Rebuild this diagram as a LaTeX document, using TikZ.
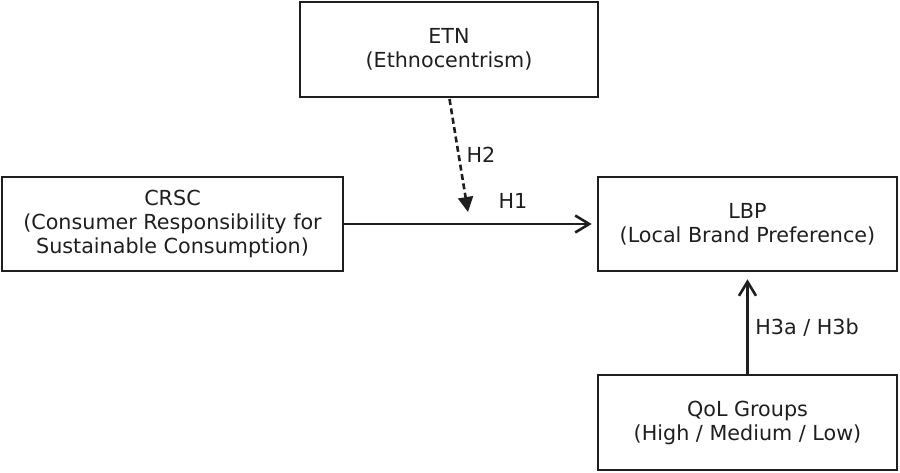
\documentclass[tikz,border=0pt]{standalone}
\usepackage{fontspec}
\setmainfont{DejaVu Sans}
\usetikzlibrary{arrows.meta}
\begin{document}
\begin{tikzpicture}[x=1pt,y=-1pt,
  box/.style={draw=black!88,line width=2.6pt,minimum width=#1,inner sep=0pt,align=center,font=\fontsize{20.7}{24}\selectfont,text=black!88},
  box/.default=298pt,
  lbl/.style={font=\fontsize{20.7}{24}\selectfont,text=black!88,inner sep=0pt},
  arr/.style={line width=2.6pt,draw=black!88,-{Straight Barb[length=14pt,width=17pt,line width=2.6pt]}},
  darr/.style={line width=2.6pt,draw=black!88,dash pattern=on 6pt off 3.5pt,-{Triangle[length=15pt,width=15pt]}}]
\useasboundingbox (0,0) rectangle (900,472);
\node[box=298pt,minimum height=95pt] (etn) at (449,49.5) {ETN\\(Ethnocentrism)};
\node[box=341pt,minimum height=94pt] (crsc) at (172.5,224) {CRSC\\(Consumer Responsibility for\\Sustainable Consumption)};
\node[box=299pt,minimum height=94pt] (lbp) at (747.5,224) {LBP\\(Local Brand Preference)};
\node[box=299pt,minimum height=95pt] (qol) at (747.5,422.5) {QoL Groups\\(High / Medium / Low)};
\coordinate (h2end) at (468,212);
\coordinate (h2start) at (449.5,99);
\draw[arr] (crsc.east) -- ([xshift=-5pt]lbp.west);
\draw[darr] (h2start) -- (h2end);
\draw[arr] (qol.north) -- ([yshift=-7pt]lbp.south);
\node[lbl] (h1) at (513,201) {H1};
\node[lbl] (h2) at (481,155) {H2};
\node[lbl] (h3) at (807,328) {H3a / H3b};
\end{tikzpicture}
\end{document}
